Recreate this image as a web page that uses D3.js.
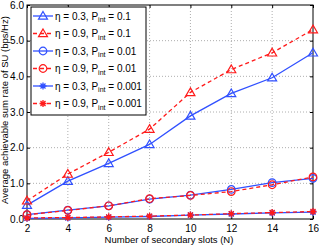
<!DOCTYPE html>
<html>
<head>
<meta charset="utf-8">
<script src="https://cdn.jsdelivr.net/npm/d3@7"></script>
<style>
  body { margin: 0; background: #fff; }
  svg { font-family: "Liberation Sans", Arial, sans-serif; }
</style>
</head>
<body>
<svg width="319" height="247"></svg>
<script>
// data
var slots = [2, 4, 6, 8, 10, 12, 14, 16];
var eta03p1 = [0.39, 1.06, 1.56, 2.09, 2.89, 3.52, 3.96, 4.66];
var eta09p1 = [0.51, 1.26, 1.87, 2.52, 3.55, 4.19, 4.66, 5.31];
var eta03p01 = [0.12, 0.25, 0.37, 0.56, 0.67, 0.83, 1.02, 1.14];
var eta09p01 = [0.12, 0.24, 0.37, 0.57, 0.66, 0.77, 0.96, 1.18];
var eta03p001 = [0.02, 0.03, 0.05, 0.07, 0.11, 0.14, 0.17, 0.19];
var eta09p001 = [0.03, 0.04, 0.06, 0.08, 0.11, 0.15, 0.18, 0.21];
var xTicks = [2, 4, 6, 8, 10, 12, 14, 16];
var yTicks = [0, 1, 2, 3, 4, 5, 6];

var blue = "#3050ff", red = "#ff1a1a";
var series = [
  {eta: "0.3", p: "0.1", vals: eta03p1, color: blue, dash: null, marker: "tri"},
  {eta: "0.9", p: "0.1", vals: eta09p1, color: red, dash: "4,3", marker: "tri"},
  {eta: "0.3", p: "0.01", vals: eta03p01, color: blue, dash: null, marker: "circ"},
  {eta: "0.9", p: "0.01", vals: eta09p01, color: red, dash: "4,3", marker: "circ"},
  {eta: "0.3", p: "0.001", vals: eta03p001, color: blue, dash: null, marker: "star"},
  {eta: "0.9", p: "0.001", vals: eta09p001, color: red, dash: "4,3", marker: "star"}
];

var margin = {top: 5, right: 6, bottom: 28, left: 27},
    width = 319 - margin.left - margin.right,
    height = 247 - margin.top - margin.bottom;

var svg = d3.select("svg").append("g")
  .attr("transform", "translate(" + margin.left + "," + margin.top + ")");

var xScale = d3.scaleLinear().domain([2, 16]).range([0, width]);
var yScale = d3.scaleLinear().domain([0, 6]).range([height, 0]);

// grid
svg.append("g").selectAll("line").data(xTicks.slice(1, -1)).enter().append("line")
  .attr("x1", function(d) { return xScale(d); }).attr("x2", function(d) { return xScale(d); })
  .attr("y1", 0).attr("y2", height)
  .attr("stroke", "#999").attr("stroke-dasharray", "1,2").attr("stroke-width", 0.8);
svg.append("g").selectAll("line").data(yTicks.slice(1, -1)).enter().append("line")
  .attr("y1", function(d) { return yScale(d); }).attr("y2", function(d) { return yScale(d); })
  .attr("x1", 0).attr("x2", width)
  .attr("stroke", "#999").attr("stroke-dasharray", "1,2").attr("stroke-width", 0.8);

// axes, matlab style ticks inside
function styleAxis(g) {
  g.select(".domain").remove();
  g.selectAll("text").attr("font-size", 10).attr("fill", "#000");
  g.selectAll("line").attr("stroke", "#000");
}
svg.append("g").attr("transform", "translate(0," + height + ")")
  .call(d3.axisBottom(xScale).tickValues(xTicks).tickSizeInner(-3).tickSizeOuter(0).tickPadding(6))
  .call(styleAxis);
svg.append("g")
  .call(d3.axisLeft(yScale).tickValues(yTicks).tickSizeInner(-3).tickSizeOuter(0).tickPadding(3))
  .call(styleAxis);
svg.append("g")
  .call(d3.axisTop(xScale).tickValues(xTicks).tickSizeInner(-3).tickSizeOuter(0).tickFormat(""))
  .call(styleAxis);
svg.append("g").attr("transform", "translate(" + width + ",0)")
  .call(d3.axisRight(yScale).tickValues(yTicks).tickSizeInner(-3).tickSizeOuter(0).tickFormat(""))
  .call(styleAxis);
svg.append("rect").attr("width", width).attr("height", height)
  .attr("fill", "none").attr("stroke", "#000").attr("stroke-width", 1);

function drawMarker(g, type, color) {
  if (type === "tri") {
    g.append("path").attr("d", "M0,-4.5L4.5,3.2L-4.5,3.2Z")
      .attr("fill", "none").attr("stroke", color).attr("stroke-width", 1.2);
  } else if (type === "circ") {
    g.append("circle").attr("r", 3.8)
      .attr("fill", "none").attr("stroke", color).attr("stroke-width", 1.2);
  } else {
    g.append("path").attr("d", "M-3.5,0H3.5M0,-3.5V3.5M-2.5,-2.5L2.5,2.5M-2.5,2.5L2.5,-2.5")
      .attr("stroke", color).attr("stroke-width", 1.3);
  }
}

var line = d3.line()
  .x(function(d, i) { return xScale(slots[i]); })
  .y(function(d) { return yScale(d); });

series.forEach(function(s) {
  svg.append("path").datum(s.vals)
    .attr("d", line)
    .attr("fill", "none")
    .attr("stroke", s.color)
    .attr("stroke-width", 1.3)
    .attr("stroke-dasharray", s.dash);
  s.vals.forEach(function(v, i) {
    var g = svg.append("g").attr("transform", "translate(" + xScale(slots[i]) + "," + yScale(v) + ")");
    drawMarker(g, s.marker, s.color);
  });
});

// legend
var legend = svg.append("g").attr("transform", "translate(4,2)");
legend.append("rect").attr("width", 115).attr("height", 108)
  .attr("fill", "#fff").attr("stroke", "#000").attr("stroke-width", 1);
series.forEach(function(s, i) {
  var yy = 9 + i * 17.5;
  var row = legend.append("g").attr("transform", "translate(0," + yy + ")");
  row.append("line").attr("x1", 2).attr("x2", 22).attr("y1", 0).attr("y2", 0)
    .attr("stroke", s.color).attr("stroke-width", 1.3).attr("stroke-dasharray", s.dash);
  drawMarker(row.append("g").attr("transform", "translate(12,0)"), s.marker, s.color);
  var t = row.append("text").attr("x", 24).attr("y", 3.5).attr("font-size", 10);
  t.append("tspan").text("\u03b7 = " + s.eta + ", P");
  t.append("tspan").attr("font-size", 7).attr("dy", 2.5).text("int");
  t.append("tspan").attr("dy", -2.5).text(" = " + s.p);
});

// axis titles
svg.append("text")
  .attr("x", width / 2 - 1).attr("y", height + 24)
  .attr("text-anchor", "middle").attr("font-size", 9.5)
  .text("Number of secondary slots (N)");
svg.append("text")
  .attr("transform", "translate(-19," + (height / 2 - 2) + ")rotate(-90)")
  .attr("text-anchor", "middle").attr("font-size", 9.5)
  .text("Average achievable sum rate of SU (bps/Hz)");
</script>
</body>
</html>
